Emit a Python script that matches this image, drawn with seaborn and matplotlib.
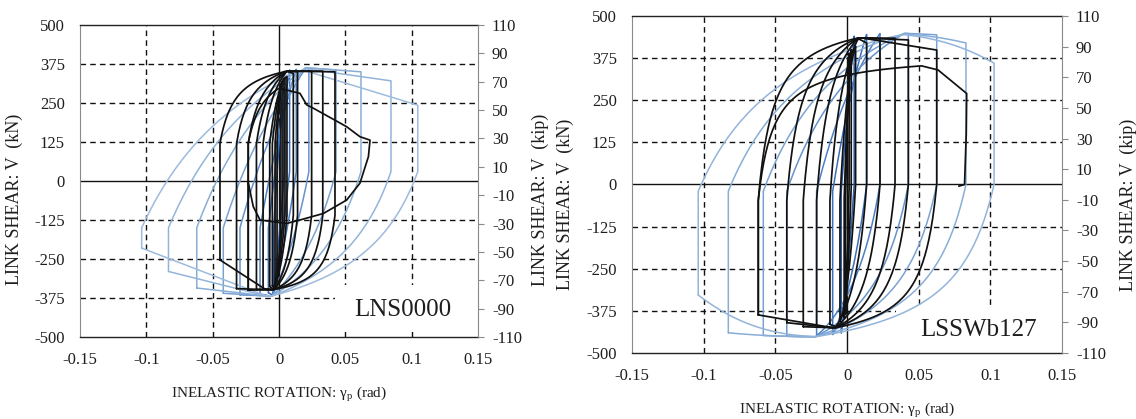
import numpy as np
import pandas as pd
import matplotlib
matplotlib.use("Agg")
import matplotlib.pyplot as plt
from matplotlib.patches import Rectangle
import seaborn as sns

# ---------------- data ----------------
# LNS0000 (left) - analysis loops (blue)
L_BLUE_XN = [-0.004, -0.008, -0.0143, -0.0294, -0.042, -0.062, -0.0833, -0.1035]
L_BLUE_XP = [0.004, 0.008, 0.013, 0.0225, 0.043, 0.0618, 0.0844, 0.1046]
L_BLUE_VN = [-352, -358, -362, -365, -360, -343, -290, -215]
L_BLUE_VP = [352, 356, 358, 360, 356, 350, 321, 243]
# LNS0000 - test loops (black)
L_BLACK_XN = [-0.0015, -0.003, -0.005, -0.007, -0.012, -0.017, -0.0232, -0.032, -0.0445]
L_BLACK_XP = [0.0015, 0.003, 0.0045, 0.006, 0.0108, 0.014, 0.0246, 0.033, 0.0422]
L_BLACK_VN = [-320, -330, -335, -338, -345, -348, -350, -345, -253]
L_BLACK_VP = [310, 320, 330, 335, 345, 350, 352, 352, 350]
# last (failure) excursion of LNS0000
L_FAIL_START = (-0.0232, -350)
L_FAIL_PEAK = (0.0, 297)
L_FAIL_X = [0.0158, 0.0209, 0.026, 0.051, 0.061, 0.0686, 0.0674, 0.061, 0.051,
            0.0335, 0.0158, 0.0058, -0.0143, -0.0194, -0.0231]
L_FAIL_V = [281, 244, 233, 174, 142, 131, 78, -7, -61, -104, -125, -136, -125, -82, -7]

# LSSWb127 (right) - analysis loops (blue)
R_BLUE_XN = [-0.004, -0.010, -0.0212, -0.042, -0.0584, -0.0828, -0.1038]
R_BLUE_XP = [0.005, 0.0137, 0.023, 0.0428, 0.0626, 0.083, 0.1026]
R_BLUE_VN = [-440, -445, -448, -450, -448, -440, -328]
R_BLUE_VP = [440, 445, 448, 448, 444, 420, 360]
# LSSWb127 - test loops (black)
R_BLACK_XN = [-0.001, -0.002, -0.0049, -0.0119, -0.0212, -0.0305, -0.042, -0.0619]
R_BLACK_XP = [0.0015, 0.003, 0.006, 0.0137, 0.023, 0.0335, 0.0428, 0.0626]
R_BLACK_VN = [-385, -395, -405, -415, -420, -422, -410, -387]
R_BLACK_VP = [390, 400, 410, 420, 432, 434, 429, 399]
R_FAIL_START = (-0.0619, -387)
R_FAIL_PEAK = (0.052, 352)
R_FAIL_X = [0.0635, 0.0835, 0.0832, 0.082, 0.078]
R_FAIL_V = [340, 270, 150, 0, -5]

X_TICKS = [-0.15, -0.1, -0.05, 0, 0.05, 0.1, 0.15]
X_TICKLABELS = ["-0.15", "-0.1", "-0.05", "0", "0.05", "0.1", "0.15"]
KN_TICKS = [-500, -375, -250, -125, 0, 125, 250, 375, 500]
KIP_TICKS = [-110, -90, -70, -50, -30, -10, 10, 30, 50, 70, 90, 110]
GRID_X = [-0.1, -0.05, 0.05, 0.1]
GRID_V = [-375, -250, -125, 125, 250, 375]

# ---------------- loop shape settings ----------------
SHAPE = {
    "L_blue": dict(sat_up=366, sat_dn=-368, knee_up=-150, knee_dn=30, k_up=0.10, k_dn=0.05,
                   xe_up=0.02, xe_dn=-0.005, decay=1.0),
    "L_black": dict(sat_up=352, sat_dn=-348, knee_up=120, knee_dn=-110, k_up=0.012, k_dn=0.008,
                    xe_up=0.006, xe_dn=-0.004, decay=1.0),
    "R_blue": dict(sat_up=450, sat_dn=-452, knee_up=-20, knee_dn=0, k_up=0.07, k_dn=0.03,
                   xe_up=0.04, xe_dn=-0.022, decay=2.5),
    "R_black": dict(sat_up=435, sat_dn=-425, knee_up=-47, knee_dn=0, k_up=0.011, k_dn=0.011,
                    xe_up=0.008, xe_dn=-0.008, decay=1.0),
}


def branch(xa, va, xb, vb, vsat, knee, k, xe, decay, n=90):
    s = np.sign(xb - xa)
    x = np.linspace(xa, xb, n)
    dx = np.abs(x - xa)
    span = abs(xb - xa)
    reach = span if xe is None else min(span, max(abs(xe - xa), 0.4 * span))
    d0 = min(0.01, 0.5 * abs(xb))
    fade = np.clip((s * x - d0) / max(s * xb - d0, 1e-9), 0, 1) ** decay
    target = vsat + (vb - vsat) * fade
    start = knee if s * (knee - va) > 0 else va
    f = np.clip(1 - dx / reach, 0, 1) / (1 + dx / k)
    v = target + (start - target) * f
    return np.r_[xa, x], np.r_[va, v]


def loops_frame(xn_list, xp_list, vn_list, vp_list, p, tag):
    rows = []
    for i, (xn, xp, vn, vp) in enumerate(zip(xn_list, xp_list, vn_list, vp_list)):
        xu, vu = branch(xn, vn, xp, vp, p["sat_up"], p["knee_up"], p["k_up"], p["xe_up"], p["decay"])
        xl, vl = branch(xp, vp, xn, vn, p["sat_dn"], p["knee_dn"], p["k_dn"], p["xe_dn"], p["decay"])
        xs, vs = np.r_[xu, xl], np.r_[vu, vl]
        rows.append(pd.DataFrame({"x": xs, "v": vs, "loop": f"{tag}{i}", "order": np.arange(len(xs))}))
    return pd.concat(rows, ignore_index=True)


def fail_frame(start, peak, tail_x, tail_v, p, tag):
    xu, vu = branch(start[0], start[1], peak[0], peak[1], peak[1], p["knee_up"], p["k_up"], None, 1.0)
    xs, vs = np.r_[xu, tail_x], np.r_[vu, tail_v]
    return pd.DataFrame({"x": xs, "v": vs, "loop": tag, "order": np.arange(len(xs))})


sns.set_style("white")
plt.rcParams["font.family"] = ["Liberation Serif", "DejaVu Serif"]
plt.rcParams["mathtext.fontset"] = "custom"
plt.rcParams["mathtext.rm"] = "Liberation Serif"

BLUES = ["#2a5eae", "#3b6fbb", "#4d80c4", "#6593cc", "#7aa3d3", "#88add7", "#93b4da", "#9dbbdd"]
TXT = "#1e1e1e"

fig = plt.figure(figsize=(11.36, 4.19), dpi=100)

panels = [
    dict(rect=[80 / 1136, 1 - 337 / 419, 398 / 1136, 312 / 419], name="LNS0000",
         blue=(L_BLUE_XN, L_BLUE_XP, L_BLUE_VN, L_BLUE_VP), black=(L_BLACK_XN, L_BLACK_XP, L_BLACK_VN, L_BLACK_VP),
         fail=(L_FAIL_START, L_FAIL_PEAK, L_FAIL_X, L_FAIL_V), sb="L_blue", sk="L_black",
         box=(0.042, -482, 0.12, 150), label_xy=(0.093, -413), ylab_x=(-0.143, 1.135), xlab_y=-0.152),
    dict(rect=[632 / 1136, 1 - 353 / 419, 430 / 1136, 337 / 419], name="LSSWb127",
         blue=(R_BLUE_XN, R_BLUE_XP, R_BLUE_VN, R_BLUE_VP), black=(R_BLACK_XN, R_BLACK_XP, R_BLACK_VN, R_BLACK_VP),
         fail=(R_FAIL_START, R_FAIL_PEAK, R_FAIL_X, R_FAIL_V), sb="R_blue", sk="R_black",
         box=(0.034, -500, 0.12, 140), label_xy=(0.092, -432), ylab_x=(-0.135, 1.133), xlab_y=-0.140),
]

for pn in panels:
    ax = fig.add_axes(pn["rect"])
    ax.set_xlim(-0.15, 0.15)
    ax.set_ylim(-500, 500)

    for gx in GRID_X:
        ax.axvline(gx, color="#111", lw=1.0, ls=(0, (4, 3)), zorder=1)
    for gv in GRID_V:
        ax.axhline(gv, color="#111", lw=1.0, ls=(0, (4, 3)), zorder=1)
    ax.axvline(0, color="#111", lw=1.0, zorder=1)
    ax.axhline(0, color="#111", lw=1.0, zorder=1)
    ax.add_patch(Rectangle(pn["box"][:2], pn["box"][2], pn["box"][3], facecolor="white",
                           edgecolor="none", zorder=2))

    blue_df = loops_frame(*pn["blue"], SHAPE[pn["sb"]], "b")
    nb = blue_df["loop"].nunique()
    pal = {f"b{i}": BLUES[min(i, len(BLUES) - 1)] for i in range(nb)}
    sns.lineplot(data=blue_df, x="x", y="v", hue="loop", palette=pal, units="loop",
                 estimator=None, sort=False, lw=1.1, legend=False, ax=ax, zorder=3)

    black_df = pd.concat([loops_frame(*pn["black"], SHAPE[pn["sk"]], "k"),
                          fail_frame(*pn["fail"], SHAPE[pn["sk"]], "kf")], ignore_index=True)
    sns.lineplot(data=black_df, x="x", y="v", units="loop", estimator=None, sort=False,
                 color="#111111", lw=1.25, legend=False, ax=ax, zorder=4)

    ax.text(*pn["label_xy"], pn["name"], fontsize=18, color=TXT, ha="center", va="center", zorder=5)

    ax.set_xticks(X_TICKS)
    ax.set_xticklabels(X_TICKLABELS)
    ax.set_yticks(KN_TICKS)
    ax.set_yticklabels([str(t) for t in KN_TICKS])
    ax.tick_params(axis="both", length=0, labelsize=12, labelcolor=TXT)
    ax.tick_params(axis="x", pad=11)
    ax.tick_params(axis="y", pad=11)

    ax.set_xlabel("INELASTIC ROTATION: γ$_\\mathregular{p}$ (rad)", fontsize=11, color=TXT)
    ax.set_ylabel("LINK SHEAR: V  (kN)", fontsize=13, color=TXT)
    ax.xaxis.set_label_coords(0.5, pn["xlab_y"])
    ax.yaxis.set_label_coords(pn["ylab_x"][0], 0.44)

    for side in ["top", "bottom"]:
        ax.spines[side].set_color("#222")
        ax.spines[side].set_linewidth(1.0)
    ax.spines["left"].set_color("#8a8a8a")
    ax.spines["right"].set_visible(False)

    ax2 = ax.twinx()
    ax2.set_ylim(-110, 110)
    ax2.set_yticks(KIP_TICKS)
    ax2.set_yticklabels([str(t) for t in KIP_TICKS])
    ax2.tick_params(axis="y", length=4, width=0.8, color="#8a8a8a", pad=6, labelsize=12, labelcolor=TXT)
    for side in ["top", "bottom", "left"]:
        ax2.spines[side].set_visible(False)
    ax2.spines["right"].set_color("#8a8a8a")
    ax2.set_ylabel("LINK SHEAR: V  (kip)", fontsize=13, color=TXT)
    ax2.yaxis.set_label_coords(pn["ylab_x"][1], 0.44)

fig.savefig("out.png", dpi=100, facecolor="white")
